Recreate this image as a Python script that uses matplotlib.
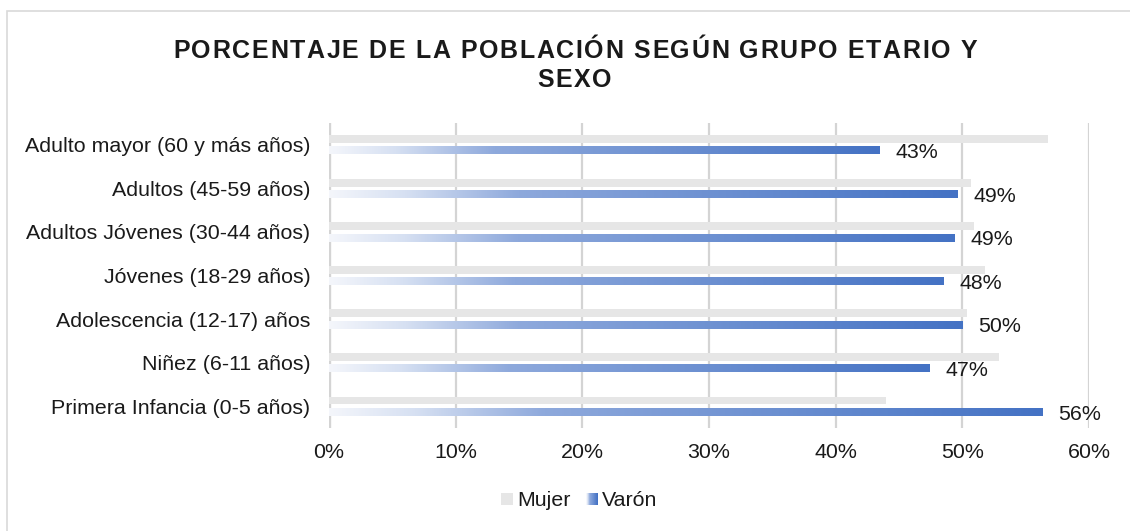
import matplotlib
matplotlib.use("Agg")
import matplotlib.pyplot as plt
import numpy as np
from matplotlib.colors import LinearSegmentedColormap
from matplotlib.patches import Rectangle
from matplotlib.legend_handler import HandlerBase
from matplotlib.font_manager import FontProperties

plt.rcParams['font.family'] = ['Liberation Sans', 'DejaVu Sans']

categories = ["Adulto mayor (60 y más años)", "Adultos (45-59 años)",
              "Adultos Jóvenes (30-44 años)", "Jóvenes (18-29 años)",
              "Adolescencia (12-17) años", "Niñez (6-11 años)",
              "Primera Infancia (0-5 años)"]
mujer = [56.8, 50.7, 50.9, 51.8, 50.4, 52.9, 44.0]
varon = [43.5, 49.6, 49.4, 48.5, 50.0, 47.4, 56.3]
varon_labels = ["43%", "49%", "49%", "48%", "50%", "47%", "56%"]
xticks = [0, 10, 20, 30, 40, 50, 60]

title_lines = ["PORCENTAJE DE LA POBLACIÓN SEGÚN GRUPO ETARIO Y", "SEXO"]

W, H = 1130, 531
TXT = '#1a1a1a'
FS = 15.4

cmap = LinearSegmentedColormap.from_list(
    "g", [(0.0, "#f4f6fb"), (0.12, "#d6e0f2"), (0.3, "#8ea9dc"), (1.0, "#4472c4")])

fig = plt.figure(figsize=(W / 100, H / 100), dpi=100)
ax = fig.add_axes([329 / W, 1 - 428 / H, (1089 - 329) / W, (428 - 123) / H])

n = len(categories)
ypos = np.arange(n)
h = 0.18
off = 0.13
grad = np.linspace(0, 1, 256).reshape(1, -1)
for i in range(n):
    y = ypos[i]
    ax.barh(y - off, mujer[i], height=h, color="#e6e6e6", zorder=3)
    ax.imshow(grad, cmap=cmap, aspect='auto',
              extent=(0, varon[i], y + off + h / 2, y + off - h / 2),
              zorder=3, interpolation='bilinear')
    ax.text(varon[i] + 1.25, y + off + 0.05, varon_labels[i], va='center', ha='left',
            fontsize=FS, color=TXT, zorder=4)

ax.set_xlim(0, 60)
ax.set_ylim(n - 0.5, -0.5)
ax.set_yticks(ypos)
ax.set_yticklabels(categories, fontsize=FS, color=TXT)
ax.set_xticks(xticks)
ax.set_xticklabels([f"{t}%" for t in xticks], fontsize=FS, color=TXT)
ax.tick_params(axis='both', length=0)
ax.tick_params(axis='y', pad=13.5)
ax.tick_params(axis='x', pad=11)
for s in ax.spines.values():
    s.set_visible(False)
for t in xticks:
    ax.axvline(t, color='#d4d4d4', lw=2.4 if t == 0 else 1.6, zorder=1)
ax.set_facecolor('none')

# Title with slight letter spacing
renderer = fig.canvas.get_renderer()
tprop = FontProperties(family=['Liberation Sans', 'DejaVu Sans'], weight='bold', size=18)
cap_px = 0.729 * 18 * 100 / 72


def spaced_text(s, xc, yc, spacing):
    widths = [renderer.get_text_width_height_descent(ch, tprop, ismath=False)[0] for ch in s]
    total = sum(widths) + spacing * (len(s) - 1)
    x = xc - total / 2
    for ch, w in zip(s, widths):
        fig.text(x / W, 1 - (yc + cap_px / 2) / H, ch, fontproperties=tprop, ha='left',
                 va='baseline', color=TXT)
        x += w + spacing
    return total


base = [renderer.get_text_width_height_descent(ch, tprop, ismath=False)[0] for ch in title_lines[0]]
sp = (804 - sum(base)) / (len(title_lines[0]) - 1)
spaced_text(title_lines[0], 575, 49, sp)
spaced_text(title_lines[1], 574, 78, sp)


class GradHandler(HandlerBase):
    def create_artists(self, legend, orig_handle, xdescent, ydescent, width, height, fontsize, trans):
        arts = []
        k = 12
        w = height
        x0 = -xdescent + width - w
        for j in range(k):
            r = Rectangle((x0 + j * w / k, -ydescent), w / k + 0.3, height,
                          facecolor=cmap(j / (k - 1)), edgecolor='none', transform=trans)
            arts.append(r)
        return arts


class SqHandler(HandlerBase):
    def create_artists(self, legend, orig_handle, xdescent, ydescent, width, height, fontsize, trans):
        w = height
        return [Rectangle((-xdescent + width - w, -ydescent), w, height,
                          facecolor="#e6e6e6", edgecolor='none', transform=trans)]


h1 = Rectangle((0, 0), 1, 1)
h2 = Rectangle((0, 0), 1, 1)
fig.legend([h1, h2], ["Mujer", "Varón"], handler_map={h1: SqHandler(), h2: GradHandler()},
           loc='center', bbox_to_anchor=(580 / W, 1 - 501 / H), ncol=2, frameon=False,
           fontsize=FS, handlelength=0.47, handleheight=0.47, handletextpad=0.2, columnspacing=0.8,
           labelcolor=TXT)

fig.patches.append(Rectangle((7 / W, 1 - 560 / H), 1200 / W, 549 / H, transform=fig.transFigure,
                             fill=False, edgecolor='#d9d9d9', lw=1.2))

fig.savefig("out.png", dpi=100)
